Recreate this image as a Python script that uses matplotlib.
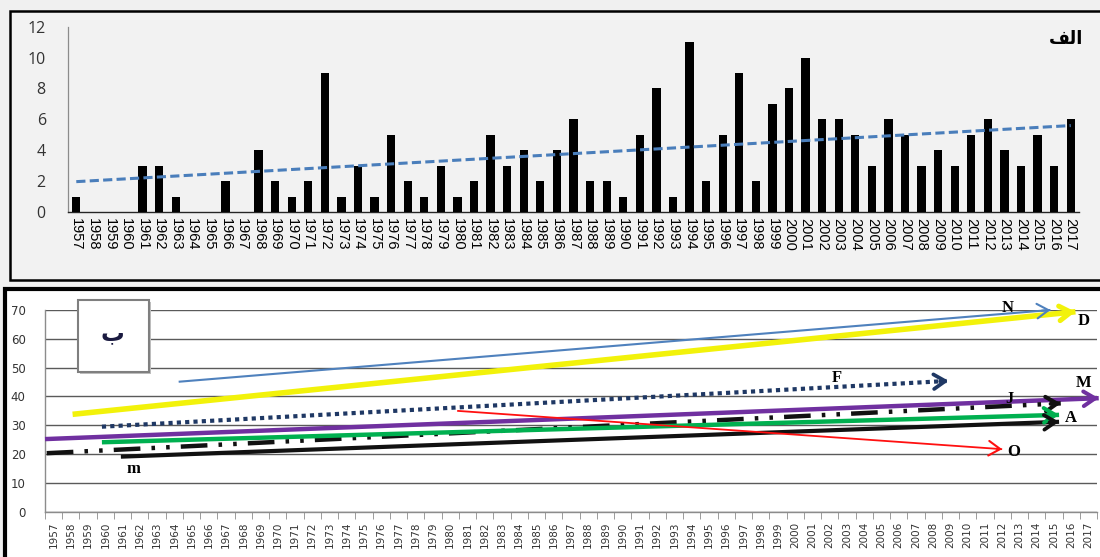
import numpy as np
import matplotlib
matplotlib.use("Agg")
import matplotlib.pyplot as plt
from matplotlib.patches import Rectangle

# ---------------- data ----------------
years = list(range(1957, 2018))
counts = [1, 0, 0, 0, 3, 3, 1, 0, 0, 2, 0, 4, 2, 1, 2, 9, 1, 3, 1, 5,
          2, 1, 3, 1, 2, 5, 3, 4, 2, 4, 6, 2, 2, 1, 5, 8, 1, 11, 2, 5,
          9, 2, 7, 8, 10, 6, 6, 5, 3, 6, 5, 3, 4, 3, 5, 6, 4, 3, 5, 3, 6]
top_yticks = [0, 2, 4, 6, 8, 10, 12]
bottom_yticks = [0, 10, 20, 30, 40, 50, 60, 70]

# monthly trend lines (start year, start value, end year, end value)
trend_names = ["N", "D", "F", "M", "J", "A", "m", "O"]
trend_x0 = [1964.25, 1958.1, 1959.8, 1956.5, 1956.6, 1959.8, 1960.9, 1980.4]
trend_y0 = [45.1, 33.8, 29.5, 25.2, 20.3, 24.1, 19.1, 35.0]
trend_x1 = [2014.8, 2016.25, 2008.9, 2017.6, 2015.4, 2015.3, 2015.3, 2012.0]
trend_y1 = [70.0, 69.4, 45.4, 39.4, 37.6, 33.6, 31.2, 21.7]
# label positions
label_x = [2012.3, 2016.7, 2002.4, 2016.7, 2012.4, 2016.0, 1961.6, 2012.7]
label_y = [70.6, 66.2, 46.3, 44.6, 39.0, 32.4, 14.7, 20.8]

panel_a_label = "الف"
panel_b_label = "ب"

# ---------------- styles ----------------
styles = {
    "N": dict(color="#4f81bd", lw=1.5, ls="-"),
    "D": dict(color="#f2f20a", lw=4.0, ls="-"),
    "F": dict(color="#1f3864", lw=3.0, ls=(0, (1, 1))),
    "M": dict(color="#7030a0", lw=3.2, ls="-"),
    "J": dict(color="#111111", lw=3.2, ls=(0, (6, 2.5, 0.8, 2.5, 0.8, 2.5))),
    "A": dict(color="#00b050", lw=3.2, ls="-"),
    "m": dict(color="#111111", lw=3.0, ls="-"),
    "O": dict(color="#ff1010", lw=1.3, ls="-"),
}

# minimal Arabic shaping for display (presentation forms, visual order)
_forms = {  # isolated, final, initial, medial
    "ا": ("\uFE8D", "\uFE8E", "\uFE8D", "\uFE8E"),
    "ل": ("\uFEDD", "\uFEDE", "\uFEDF", "\uFEE0"),
    "ف": ("\uFED1", "\uFED2", "\uFED3", "\uFED4"),
    "ب": ("\uFE8F", "\uFE90", "\uFE91", "\uFE92"),
}
_no_join_after = set("ا")


def shape_ar(s):
    out = []
    n = len(s)
    for i, ch in enumerate(s):
        prev_joins = i > 0 and s[i - 1] not in _no_join_after
        next_joins = i < n - 1 and ch not in _no_join_after
        f = _forms[ch]
        if prev_joins and next_joins:
            out.append(f[3])
        elif prev_joins:
            out.append(f[1])
        elif next_joins:
            out.append(f[2])
        else:
            out.append(f[0])
    return "".join(reversed(out))


W, H = 1100, 557
fig = plt.figure(figsize=(W / 100, H / 100), dpi=100, facecolor="#f0f0f0")

# panel frames
fig.patches.append(Rectangle((9.5 / W, 1 - 280 / H), 1.2, (280 - 11) / H,
                             transform=fig.transFigure, facecolor="#f2f2f2",
                             edgecolor="black", lw=1.8, zorder=-5))
fig.patches.append(Rectangle((5 / W, -0.2), 1.2, 0.2 + 1 - 289 / H,
                             transform=fig.transFigure, facecolor="white",
                             edgecolor="black", lw=3.0, zorder=-5))

# ---------------- top panel ----------------
ax1 = fig.add_axes([68 / W, 1 - 212 / H, (1079 - 68) / W, (212 - 26.7) / H])
ax1.set_facecolor("none")
ax1.bar(years, counts, width=0.5, color="black", zorder=3)
# linear trend (empty years treated as blank cells)
yr_arr = np.array(years, dtype=float)
ct_arr = np.array(counts, dtype=float)
mask = ct_arr > 0
coef = np.polyfit(yr_arr[mask], ct_arr[mask], 1)
fit = np.polyval(coef, yr_arr)
ax1.plot(years, fit, color="#4a7ebb", lw=2.2, ls=(0, (3, 1.4)), zorder=4)
ax1.set_xlim(1956.5, 2017.5)
ax1.set_ylim(0, 12)
ax1.set_yticks(top_yticks)
ax1.set_yticklabels([str(v) for v in top_yticks], fontsize=11.5,
                    family="Open Sans", color="#333333")
ax1.set_xticks(years)
ax1.set_xticklabels([str(y) for y in years], rotation=270, fontsize=10.5,
                    family="Liberation Sans", ha="center", va="top")
ax1.tick_params(axis="both", length=0)
ax1.tick_params(axis="y", pad=16)
ax1.tick_params(axis="x", pad=4)
for s in ["top", "right"]:
    ax1.spines[s].set_visible(False)
ax1.spines["left"].set_color("#8c8c8c")
ax1.spines["left"].set_linewidth(0.9)
ax1.spines["bottom"].set_color("#262626")
ax1.spines["bottom"].set_linewidth(1.0)
fig.text(1066 / W, 1 - 39 / H, shape_ar(panel_a_label), fontsize=13,
         fontweight="bold", family=["DejaVu Sans"], ha="center", va="center")

# ---------------- bottom panel ----------------
ax2 = fig.add_axes([45 / W, 1 - 511.7 / H, (1097 - 45) / W, (511.7 - 310) / H])
ax2.set_facecolor("none")
ax2.set_xlim(1956.5, 2017.5)
ax2.set_ylim(0, 70)
ax2.set_yticks(bottom_yticks)
ax2.set_yticklabels([str(v) for v in bottom_yticks], fontsize=8.5,
                    family="DejaVu Sans", color="#333333")
ax2.yaxis.grid(True, color="#5a5a5a", lw=1.0)
ax2.set_axisbelow(True)
ax2.set_xticks(years)
ax2.set_xticklabels([str(y) for y in years], rotation=90, fontsize=7.5,
                    family="DejaVu Sans", color="#333333")
ax2.set_xticks([y - 0.5 for y in years] + [years[-1] + 0.5], minor=True)
ax2.tick_params(axis="x", which="major", length=0, pad=7)
ax2.tick_params(axis="x", which="minor", length=5, color="#8c8c8c")
ax2.tick_params(axis="y", length=0, pad=14)
for s in ["top", "right"]:
    ax2.spines[s].set_visible(False)
for s in ["left", "bottom"]:
    ax2.spines[s].set_color("#8c8c8c")
    ax2.spines[s].set_linewidth(1.0)

for name, x0, y0, x1, y1 in zip(trend_names, trend_x0, trend_y0, trend_x1, trend_y1):
    st = styles[name]
    ax2.plot([x0, x1], [y0, y1], color=st["color"], lw=st["lw"], ls=st["ls"],
             solid_capstyle="butt", clip_on=False, zorder=3)
    bx = x1 - (x1 - x0) * 0.01
    by = y1 - (y1 - y0) * 0.01
    ax2.annotate("", xy=(x1, y1), xytext=(bx, by), annotation_clip=False,
                 arrowprops=dict(arrowstyle="->,head_length=0.55,head_width=0.35",
                                 color=st["color"], lw=max(st["lw"] * 0.9, 1.5),
                                 shrinkA=0, shrinkB=0, mutation_scale=15),
                 zorder=4)

for name, lx, ly in zip(trend_names, label_x, label_y):
    ax2.text(lx, ly, name, fontsize=12, fontweight="bold",
             family="Liberation Serif", ha="center", va="center",
             clip_on=False, zorder=5)

# panel b label box
fig.patches.append(Rectangle((80 / W, 1 - 374 / H), 71 / W, 72 / H,
                             transform=fig.transFigure, facecolor="#bfbfbf",
                             edgecolor="none", zorder=5))
fig.patches.append(Rectangle((78 / W, 1 - 372 / H), 71 / W, 72 / H,
                             transform=fig.transFigure, facecolor="white",
                             edgecolor="#7f7f7f", lw=1.5, zorder=6))
fig.text(112 / W, 1 - 333 / H, shape_ar(panel_b_label), fontsize=17,
         fontweight="bold", family=["DejaVu Sans"], color="#1a1a40",
         ha="center", va="center", zorder=7)

fig.savefig("out.png", dpi=100, facecolor=fig.get_facecolor())
